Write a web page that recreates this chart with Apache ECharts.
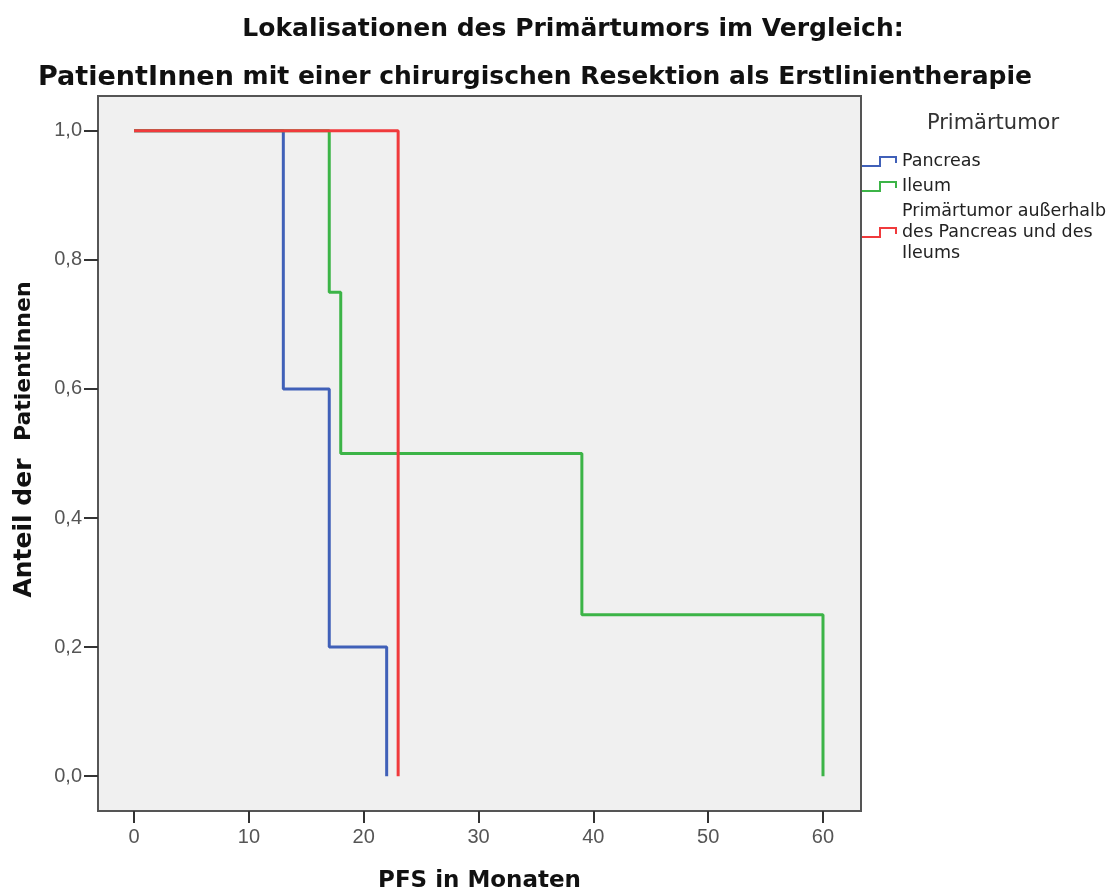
<!DOCTYPE html>
<html><head><meta charset="utf-8">
<script src="https://cdn.jsdelivr.net/npm/echarts@6/dist/echarts.min.js"></script>
<style>html,body{margin:0;padding:0;background:#fff}#c{width:1112px;height:894px}</style>
</head><body><div id="c"></div>
<script>
const xTicks = [0, 10, 20, 30, 40, 50, 60];
const yTicks = [0, 0.2, 0.4, 0.6, 0.8, 1.0];
const seriesNames = ['Pancreas', 'Ileum', 'Primärtumor außerhalb\ndes Pancreas und des\nIleums'];
const pancreasX = [0, 13, 17, 22];
const pancreasY = [1.0, 0.6, 0.2, 0.0];
const ileumX = [0, 17, 18, 39, 60];
const ileumY = [1.0, 0.75, 0.5, 0.25, 0.0];
const otherX = [0, 23];
const otherY = [1.0, 0.0];
const colors = ['#4060b8', '#3cb447', '#f03a3c'];

function pairs(xs, ys) { return xs.map((x, i) => [x, ys[i]]); }
const stepIcon = 'path://M0,9 L17,9 L17,0 L35,0 L35,7 L33,7 L33,2 L19,2 L19,11 L0,11 Z';
const boldFont = 'DejaVu Sans';

const chart = echarts.init(document.getElementById('c'), null, {renderer: 'canvas'});
chart.setOption({
  animation: false,
  backgroundColor: '#ffffff',
  title: [
    {text: 'Lokalisationen des Primärtumors im Vergleich:', left: 568, top: 12, textAlign: 'center',
     textStyle: {fontFamily: boldFont, fontWeight: 'bold', fontSize: 25, color: '#111'}},
    {text: '{a|PatientInnen} mit einer chirurgischen Resektion als Erstlinientherapie', left: 33, top: 59,
     textStyle: {fontFamily: boldFont, fontWeight: 'bold', fontSize: 25, color: '#111',
       rich: {a: {fontFamily: boldFont, fontWeight: 'bold', fontSize: 27, color: '#111'}}}},
    {text: 'Primärtumor', left: 988, top: 108, textAlign: 'center',
     textStyle: {fontFamily: 'DejaVu Sans', fontWeight: 'normal', fontSize: 21, color: '#333'}}
  ],
  legend: {
    orient: 'vertical', left: 862, top: 151, padding: 0, itemWidth: 35, itemHeight: 11, itemGap: 4,
    icon: stepIcon,
    data: seriesNames,
    textStyle: {fontFamily: 'DejaVu Sans', fontSize: 17.5, color: '#222', lineHeight: 21},
    itemStyle: {borderWidth: 0}
  },
  grid: {left: 98, right: 251, top: 96, bottom: 83, show: true, backgroundColor: '#f0f0f0', borderColor: '#555', borderWidth: 2,
    containLabel: false, outerBoundsMode: 'none'},
  xAxis: {
    type: 'value', min: -3.14, max: 63.31,
    name: 'PFS in Monaten', nameLocation: 'middle', nameGap: 59,
    nameTextStyle: {fontFamily: boldFont, fontWeight: 'bold', fontSize: 23, color: '#111'},
    axisLine: {show: false, onZero: false},
    axisTick: {show: true, customValues: xTicks, length: 12, lineStyle: {color: '#333', width: 2}},
    axisLabel: {customValues: xTicks, color: '#555', fontSize: 20, fontFamily: 'Liberation Sans, Arial', margin: 16},
    splitLine: {show: false}
  },
  yAxis: {
    type: 'value', min: -0.054, max: 1.054,
    name: 'Anteil der  {b|PatientInnen}', nameLocation: 'middle', nameGap: 61, nameRotate: 90,
    nameTextStyle: {fontFamily: boldFont, fontWeight: 'bold', fontSize: 25, color: '#111', padding: [0, 0, 0, 28],
      rich: {b: {fontFamily: boldFont, fontWeight: 'bold', fontSize: 22, color: '#111'}}},
    axisLine: {show: false, onZero: false},
    axisTick: {show: true, customValues: yTicks, length: 14, lineStyle: {color: '#333', width: 2}},
    axisLabel: {customValues: yTicks, color: '#555', fontSize: 20, fontFamily: 'Liberation Sans, Arial', margin: 16,
      formatter: v => v.toFixed(1).replace('.', ',')},
    splitLine: {show: false}
  },
  series: [
    {name: seriesNames[0], type: 'line', step: 'end', symbol: 'none', data: pairs(pancreasX, pancreasY),
     lineStyle: {color: colors[0], width: 3}, itemStyle: {color: colors[0]}, z: 2},
    {name: seriesNames[1], type: 'line', step: 'end', symbol: 'none', data: pairs(ileumX, ileumY),
     lineStyle: {color: colors[1], width: 3}, itemStyle: {color: colors[1]}, z: 3},
    {name: seriesNames[2], type: 'line', step: 'end', symbol: 'none', data: pairs(otherX, otherY),
     lineStyle: {color: colors[2], width: 3}, itemStyle: {color: colors[2]}, z: 4}
  ]
});
</script></body></html>
